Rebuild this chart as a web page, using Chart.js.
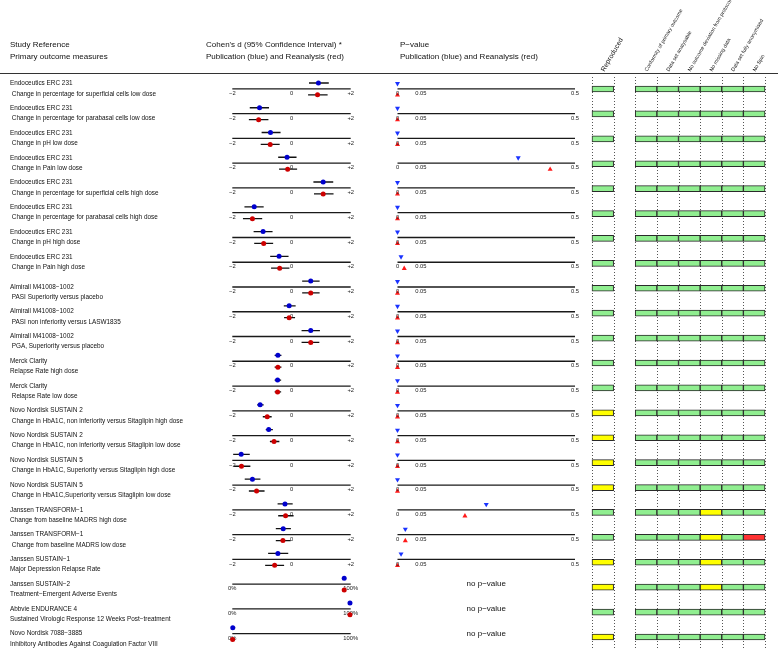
<!DOCTYPE html>
<html>
<head>
<meta charset="utf-8">
<script src="https://cdn.jsdelivr.net/npm/chart.js@4.4.1/dist/chart.umd.min.js"></script>
<style>
  html, body { margin: 0; padding: 0; background: #fff; }
  #wrap { position: relative; width: 780px; height: 650px; }
  #wrap canvas { position: absolute; left: 0; top: 0; }
</style>
</head>
<body>
<div id="wrap">
  <canvas id="forest" width="780" height="650"></canvas>
  <canvas id="pval" width="780" height="650"></canvas>
  <canvas id="grid" width="780" height="650"></canvas>
</div>
<script>
const studies = [
  'Endoceutics ERC 231', 'Endoceutics ERC 231', 'Endoceutics ERC 231', 'Endoceutics ERC 231',
  'Endoceutics ERC 231', 'Endoceutics ERC 231', 'Endoceutics ERC 231', 'Endoceutics ERC 231',
  'Almirall M41008−1002', 'Almirall M41008−1002', 'Almirall M41008−1002',
  'Merck Clarity', 'Merck Clarity',
  'Novo Nordisk SUSTAIN 2', 'Novo Nordisk SUSTAIN 2', 'Novo Nordisk SUSTAIN 5', 'Novo Nordisk SUSTAIN 5',
  'Janssen TRANSFORM−1', 'Janssen TRANSFORM−1', 'Janssen SUSTAIN−1', 'Janssen SUSTAIN−2',
  'Abbvie ENDURANCE 4', 'Novo Nordisk 7088−3885'
];
const outcomes = [
  ' Change in percentage for superficial cells low dose',
  ' Change in percentage for parabasal cells low dose',
  ' Change in pH low dose',
  ' Change in Pain low dose',
  ' Change in percentage for superficial cells high dose',
  ' Change in percentage for parabasal cells high dose',
  ' Change in pH high dose',
  ' Change in Pain high dose',
  ' PASI Superiority versus placebo',
  ' PASI non inferiority versus LASW1835',
  ' PGA, Superiority versus placebo',
  'Relapse Rate high dose',
  ' Relapse Rate low dose',
  ' Change in HbA1C, non inferiority versus Sitaglipin high dose',
  ' Change in HbA1C, non inferiority versus Sitaglipin low dose',
  ' Change in HbA1C, Superiority versus Sitaglipin high dose',
  ' Change in HbA1C,Superiority versus Sitaglipin low dose',
  'Change from baseline MADRS high dose',
  ' Change from baseline MADRS low dose',
  'Major Depression Relapse Rate',
  'Treatment−Emergent Adverse Events',
  'Sustained Virologic Response 12 Weeks Post−treatment',
  'Inhibitory Antibodies Against Coagulation Factor VIII'
];

// Cohen's d, rows 1-20 (publication / reanalysis)
const pubD  = [0.91, -1.08, -0.71, -0.15, 1.07, -1.26, -0.96, -0.42, 0.65, -0.08, 0.65, -0.46, -0.47, -1.06, -0.77, -1.70, -1.32, -0.22, -0.28, -0.46];
const pubLo = [0.59, -1.41, -1.01, -0.45, 0.74, -1.59, -1.28, -0.72, 0.36, -0.26, 0.34, -0.57, -0.57, -1.16, -0.87, -1.97, -1.58, -0.47, -0.53, -0.79];
const pubHi = [1.26, -0.76, -0.37, 0.17, 1.41, -0.94, -0.64, -0.10, 0.95, 0.14, 0.96, -0.34, -0.35, -0.94, -0.63, -1.41, -1.05, 0.04, -0.02, -0.11];
const reD   = [0.88, -1.11, -0.72, -0.13, 1.07, -1.32, -0.94, -0.40, 0.65, -0.08, 0.65, -0.46, -0.47, -0.82, -0.59, -1.69, -1.18, -0.20, -0.29, -0.57];
const reLo  = [0.56, -1.44, -1.04, -0.42, 0.76, -1.64, -1.26, -0.69, 0.36, -0.25, 0.34, -0.57, -0.57, -0.97, -0.73, -1.94, -1.44, -0.45, -0.53, -0.89];
const reHi  = [1.22, -0.78, -0.40, 0.19, 1.42, -0.99, -0.62, -0.07, 0.95, 0.12, 0.94, -0.34, -0.35, -0.67, -0.41, -1.39, -0.91, 0.07, -0.03, -0.25];

// percentage outcomes, rows 21-23
const pubPct   = [94.5, 99.4, 0.4];
const pubPctLo = [null, null, 0];
const pubPctHi = [null, null, 2.4];
const rePct    = [94.5, 99.4, 0.3];

// p-values, rows 1-20
const pPub = [0, 0, 0, 0.34, 0, 0, 0, 0.01, 0, 0, 0, 0, 0, 0, 0, 0, 0, 0.25, 0.022, 0.01];
const pRe  = [0, 0, 0, 0.43, 0, 0, 0, 0.019, 0, 0, 0, 0, 0, 0, 0, 0, 0, 0.19, 0.022, 0];

const dTicks = [-2, 0, 2];
const dTickLabels = ['−2', '0', '+2'];
const pctTicks = [0, 100];
const pctTickLabels = ['0%', '100%'];
const pTicks = [0, 0.05, 0.5];
const pTickLabels = ['0', '0.05', '0.5'];

const criteria = ['Reproduced', 'Conformity of primary outcome', 'Data set analysable',
  'No outcome deviation from protocol', 'No missing data', 'Data set fully anonymised', 'No Spin'];
// G green, Y yellow, R red; first letter = Reproduced
const checks = [
  'GGGGGGG', 'GGGGGGG', 'GGGGGGG', 'GGGGGGG', 'GGGGGGG', 'GGGGGGG', 'GGGGGGG', 'GGGGGGG',
  'GGGGGGG', 'GGGGGGG', 'GGGGGGG', 'GGGGGGG', 'GGGGGGG',
  'YGGGGGG', 'YGGGGGG', 'YGGGGGG', 'YGGGGGG',
  'GGGGYGG', 'GGGGYGR', 'YGGGYGG', 'YGGGYGG', 'GGGGGGG', 'YGGGGGG'
];
const statusColor = { G: '#90EE90', Y: '#FFFF00', R: '#FF3333' };

const FONT = '"Liberation Sans", Arial, Helvetica, sans-serif';
const f = s => s + 'px ' + FONT;
const nRows = studies.length;
const nD = pubD.length;

// rows 1..nRows sit between y=89 and y=637; the scale gets half a row of room on each side
const rowTop = 89, rowBottom = 637;
const rowStep = (rowBottom - rowTop) / (nRows - 1);
const rowScale = { type: 'linear', min: 0.5, max: nRows + 0.5, reverse: true, display: false };
const padY = { top: rowTop - rowStep / 2, bottom: 650 - (rowBottom + rowStep / 2) };
// text column: its own pitch, a little extra space after the Endoceutics block
const labelTop = 83.5, labelPitch = 24.78, labelGap = 10.3, blockBreak = 8, blockGap = 5;

// pixel span of each panel: [value, pixel] at both ends, plus the extended scale range
function padX(v0, p0, v1, p1, min, max) {
  const k = (p1 - p0) / (v1 - v0);
  return { left: p0 + (min - v0) * k, right: 780 - (p0 + (max - v0) * k) };
}
const forestPad = padX(-2, 232.3, 2, 350.7, -2.5, 2.5);
const pPad = padX(0, 397.5, 0.5, 575, -0.02, 0.52);

const blueDot = '#0000CD', redDot = '#CD0000';

function segments(lo, hi, first, off) {
  const pts = [];
  lo.forEach((l, i) => {
    if (l == null) return;
    pts.push({ x: l, y: first + i + off }, { x: hi[i], y: first + i + off }, { x: null, y: null });
  });
  return pts;
}

// ---------- Cohen's d panel + left labels ----------
const forestText = {
  id: 'forestText',
  beforeDatasetsDraw(chart) {
    const { ctx, scales: { x, xp, y } } = chart;
    ctx.save();
    ctx.strokeStyle = '#1a1a1a';
    ctx.lineWidth = 1.3;
    ctx.fillStyle = '#1a1a1a';
    ctx.font = f(5.8);
    ctx.textAlign = 'center';
    ctx.textBaseline = 'middle';
    for (let r = 1; r <= nRows; r++) {
      const pct = r > nD;
      const sc = pct ? xp : x;
      const ticks = pct ? pctTicks : dTicks;
      const labels = pct ? pctTickLabels : dTickLabels;
      const py = y.getPixelForValue(r);
      ctx.beginPath();
      ctx.moveTo(sc.getPixelForValue(ticks[0]), py);
      ctx.lineTo(sc.getPixelForValue(ticks[ticks.length - 1]), py);
      ctx.stroke();
      ticks.forEach((t, k) => ctx.fillText(labels[k], sc.getPixelForValue(t), py + 4.6));
    }
    ctx.restore();
  },
  afterDraw(chart) {
    const { ctx } = chart;
    ctx.save();
    ctx.fillStyle = '#111';
    ctx.textBaseline = 'middle';
    ctx.textAlign = 'left';
    ctx.font = f(8);
    ctx.fillText('Study Reference', 10, 44.5);
    ctx.fillText('Primary outcome measures', 10, 56.5);
    ctx.fillText("Cohen's d (95% Confidence Interval) *", 206, 44.5);
    ctx.fillText('Publication (blue) and Reanalysis (red)', 206, 56.5);
    ctx.fillText('P−value', 400, 44.5);
    ctx.fillText('Publication (blue) and Reanalysis (red)', 400, 56.5);
    ctx.strokeStyle = '#333';
    ctx.lineWidth = 1.2;
    ctx.beginPath();
    ctx.moveTo(0, 73.5);
    ctx.lineTo(778, 73.5);
    ctx.stroke();
    ctx.font = f(6.4);
    studies.forEach((s, i) => {
      const py = labelTop + i * labelPitch + (i >= blockBreak ? blockGap : 0);
      ctx.fillText(s, 10, py);
      ctx.fillText(outcomes[i], 10, py + labelGap);
    });
    ctx.restore();
  }
};

const dotOpts = (color) => ({
  showLine: false, pointRadius: 2.5, pointBorderWidth: 0,
  pointBackgroundColor: color, borderColor: color, clip: false, order: 0
});
const barOpts = {
  showLine: true, pointRadius: 0, borderColor: '#111', borderWidth: 1.3, clip: false, order: 1
};

new Chart(document.getElementById('forest'), {
  type: 'scatter',
  data: {
    datasets: [
      { ...dotOpts(blueDot), data: pubD.map((v, i) => ({ x: v, y: i + 1 - 0.24 })) },
      { ...dotOpts(redDot), data: reD.map((v, i) => ({ x: v, y: i + 1 + 0.24 })) },
      { ...dotOpts(blueDot), xAxisID: 'xp', data: pubPct.map((v, i) => ({ x: v, y: nD + i + 1 - 0.24 })) },
      { ...dotOpts(redDot), xAxisID: 'xp', data: rePct.map((v, i) => ({ x: v, y: nD + i + 1 + 0.24 })) },
      { ...barOpts, data: segments(pubLo, pubHi, 1, -0.24) },
      { ...barOpts, data: segments(reLo, reHi, 1, 0.24) },
      { ...barOpts, xAxisID: 'xp', data: segments(pubPctLo, pubPctHi, nD + 1, -0.24) }
    ]
  },
  options: {
    responsive: false, animation: false, events: [],
    layout: { padding: { left: forestPad.left, right: forestPad.right, top: padY.top, bottom: padY.bottom } },
    plugins: { legend: { display: false }, tooltip: { enabled: false } },
    scales: {
      x: { type: 'linear', min: -2.5, max: 2.5, display: false },
      xp: { type: 'linear', axis: 'x', min: -12.5, max: 112.5, display: false },
      y: rowScale
    }
  },
  plugins: [forestText]
});

// ---------- P-value panel ----------
const pText = {
  id: 'pText',
  beforeDatasetsDraw(chart) {
    const { ctx, scales: { x, y } } = chart;
    ctx.save();
    ctx.strokeStyle = '#1a1a1a';
    ctx.lineWidth = 1.3;
    for (let r = 1; r <= nD; r++) {
      const py = y.getPixelForValue(r);
      ctx.beginPath();
      ctx.moveTo(x.getPixelForValue(pTicks[0]), py);
      ctx.lineTo(x.getPixelForValue(pTicks[pTicks.length - 1]), py);
      ctx.stroke();
    }
    ctx.fillStyle = '#111';
    ctx.font = f(8);
    ctx.textAlign = 'center';
    ctx.textBaseline = 'middle';
    for (let r = nD + 1; r <= nRows; r++) {
      ctx.fillText('no p−value', x.getPixelForValue(0.25), y.getPixelForValue(r));
    }
    ctx.restore();
  },
  afterDatasetsDraw(chart) {
    const { ctx, scales: { x, y } } = chart;
    ctx.save();
    ctx.fillStyle = '#1a1a1a';
    ctx.font = f(5.8);
    ctx.textBaseline = 'middle';
    for (let r = 1; r <= nD; r++) {
      const py = y.getPixelForValue(r) + 4.6;
      pTicks.forEach((t, k) => {
        ctx.textAlign = k === 1 ? 'left' : 'center';
        ctx.fillText(pTickLabels[k], x.getPixelForValue(t), py);
      });
    }
    ctx.restore();
  }
};

new Chart(document.getElementById('pval'), {
  type: 'scatter',
  data: {
    datasets: [
      { data: pPub.map((v, i) => ({ x: v, y: i + 1 - 0.22 })), pointStyle: 'triangle', rotation: 180,
        pointRadius: 2.9, pointBorderWidth: 0, pointBackgroundColor: '#1a33ff', clip: false },
      { data: pRe.map((v, i) => ({ x: v, y: i + 1 + 0.25 })), pointStyle: 'triangle',
        pointRadius: 2.9, pointBorderWidth: 0, pointBackgroundColor: '#ff1a1a', clip: false }
    ]
  },
  options: {
    responsive: false, animation: false, events: [],
    layout: { padding: { left: pPad.left, right: pPad.right, top: padY.top, bottom: padY.bottom } },
    plugins: { legend: { display: false }, tooltip: { enabled: false } },
    scales: { x: { type: 'linear', min: -0.02, max: 0.52, display: false }, y: rowScale }
  },
  plugins: [pText]
});

// ---------- quality grid ----------
// column units: Reproduced [0,1], gap [1,2], criteria [2,3] ... [7,8]
const colStart = criteria.map((c, k) => (k === 0 ? 0 : k + 1));

const gridText = {
  id: 'gridText',
  beforeDatasetsDraw(chart) {
    const { ctx, scales: { x } } = chart;
    ctx.save();
    ctx.strokeStyle = '#555';
    ctx.lineWidth = 1;
    ctx.setLineDash([1, 2]);
    for (let u = 0; u <= 8; u++) {
      const px = Math.round(x.getPixelForValue(u)) + 0.5;
      ctx.beginPath();
      ctx.moveTo(px, 77);
      ctx.lineTo(px, 650);
      ctx.stroke();
    }
    ctx.restore();
  },
  afterDraw(chart) {
    const { ctx, scales: { x } } = chart;
    ctx.save();
    ctx.fillStyle = '#111';
    ctx.textAlign = 'left';
    ctx.textBaseline = 'middle';
    criteria.forEach((c, k) => {
      ctx.save();
      ctx.translate(x.getPixelForValue(colStart[k] + 0.5), 71);
      ctx.rotate(-Math.PI / 3);
      ctx.font = f(k === 0 ? 6.9 : 5.2);
      ctx.fillText(c, 0, 0);
      ctx.restore();
    });
    ctx.restore();
  }
};

new Chart(document.getElementById('grid'), {
  type: 'bar',
  data: {
    datasets: criteria.map((c, k) => ({
      label: c,
      data: checks.map((s, i) => ({ y: i + 1, x: [colStart[k], colStart[k] + 1] })),
      backgroundColor: checks.map(s => statusColor[s[k]]),
      borderColor: '#2a2a2a',
      borderWidth: 1,
      borderSkipped: false,
      barThickness: 6,
      grouped: false,
      clip: false
    }))
  },
  options: {
    indexAxis: 'y',
    responsive: false, animation: false, events: [],
    layout: { padding: { left: 592, right: 780 - 765, top: padY.top, bottom: padY.bottom } },
    plugins: { legend: { display: false }, tooltip: { enabled: false } },
    scales: {
      x: { type: 'linear', min: 0, max: 8, display: false },
      y: { ...rowScale, offset: false }
    }
  },
  plugins: [gridText]
});
</script>
</body>
</html>
